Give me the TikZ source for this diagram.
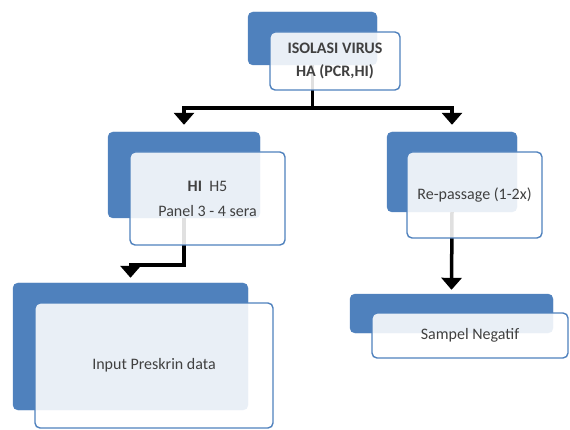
\documentclass[tikz,border=0pt]{standalone}
\usepackage{fontspec}
\setmainfont{Carlito}
\usetikzlibrary{arrows.meta}
\definecolor{boxblue}{RGB}{79,129,189}
\definecolor{txtgrey}{RGB}{64,64,64}

\begin{document}
\begin{tikzpicture}[x=1pt,y=1pt,yscale=-1,xscale=1,
  back/.style={draw=boxblue,fill=boxblue,rounded corners=5pt,inner sep=0pt},
  front/.style={draw=boxblue,line width=1.4pt,fill=white,fill opacity=0.88,text opacity=1,rounded corners=5pt,inner sep=0pt,text=txtgrey,align=center,font=\fontsize{16}{18}\selectfont},
  stem/.style={line width=3.5pt},
  arr/.style={line width=3.5pt,-{Triangle[width=20pt,length=12pt]}}]
\useasboundingbox (0,0) rectangle (570,430);

%Rounded Rect back
\node [back, minimum width=129pt, minimum height=53pt] (isob) at (312.5,38.5) {};
\node [back, minimum width=152pt, minimum height=86pt] (hib) at (184,175) {};
\node [back, minimum width=130pt, minimum height=80pt] (repb) at (452,172) {};
\node [back, minimum width=235pt, minimum height=127pt] (inpb) at (130.5,346.5) {};
\node [back, minimum width=203pt, minimum height=39pt] (negb) at (451.5,313.5) {};

%Connectors
\coordinate (split) at (312.5,108);
\draw [stem] (isob.south) -- (split);
\draw [arr, shorten >=7pt] (split) -| (hib.north);
\draw [arr, shorten >=7pt] (split) -| (repb.north);
\draw [arr, shorten >=5pt] (hib.south) -- ++(0,47) -| (inpb.north);
\draw [arr, shorten >=4pt] (repb.south) -- (negb.north);

%Rounded Rect front
\node [front, minimum width=130pt, minimum height=58pt] (isof) at (335,61)
  {\textbf{ISOLASI VIRUS}\\[5pt]\textbf{HA (PCR,HI)}};
\node [front, minimum width=155pt, minimum height=93pt] (hif) at (207.5,198.5)
  {\textbf{HI}\ \ H5\\[7pt]Panel 3 - 4 sera};
\node [front, minimum width=135pt, minimum height=86pt] (repf) at (474.5,195)
  {Re-passage (1-2x)};
\node [front, minimum width=238pt, minimum height=125pt] (inpf) at (154,365.5)
  {Input Preskrin data};
\node [front, minimum width=196pt, minimum height=45pt] (negf) at (470,335.5)
  {Sampel Negatif};
\end{tikzpicture}
\end{document}
